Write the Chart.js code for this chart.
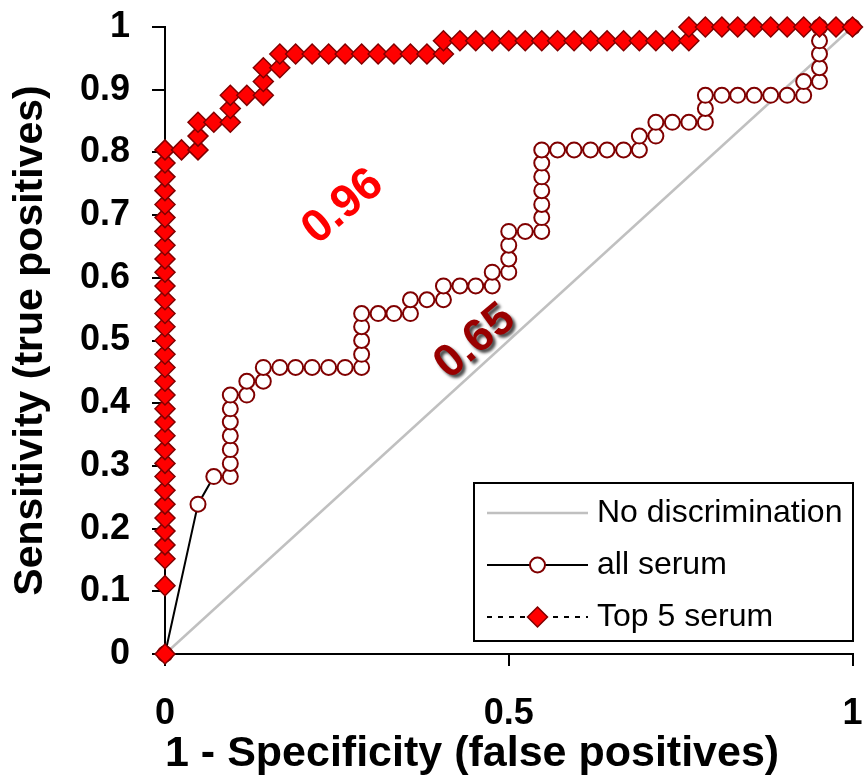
<!DOCTYPE html>
<html lang="en">
<head>
<meta charset="UTF-8">
<title>ROC curves</title>
<script src="https://cdn.jsdelivr.net/npm/chart.js@4.4.1/dist/chart.umd.min.js"></script>
<style>
  body { margin: 0; background: #fff; }
  #roc { display: block; }
</style>
</head>
<body>
<canvas id="roc" width="864" height="780"></canvas>
<script>
// series labels (legend order)
const seriesNames = ['No discrimination', 'all serum', 'Top 5 serum'];

// chance diagonal
const chanceX = [0, 1];
const chanceY = [0, 1];

// all serum ROC points (1 - specificity, sensitivity)
const allSerumX = [0, 0.048, 0.071, 0.095, 0.095, 0.095, 0.095, 0.095, 0.095, 0.095,
  0.119, 0.119, 0.143, 0.143, 0.167, 0.190, 0.214, 0.238, 0.262, 0.286,
  0.286, 0.286, 0.286, 0.286, 0.310, 0.333, 0.357, 0.357, 0.381, 0.405,
  0.405, 0.429, 0.452, 0.476, 0.476, 0.500, 0.500, 0.500, 0.500, 0.524,
  0.548, 0.548, 0.548, 0.548, 0.548, 0.548, 0.548, 0.571, 0.595, 0.619,
  0.643, 0.667, 0.690, 0.690, 0.714, 0.714, 0.738, 0.762, 0.786, 0.786,
  0.786, 0.810, 0.833, 0.857, 0.881, 0.905, 0.929, 0.929, 0.952, 0.952,
  0.952, 0.952, 0.952, 1];
const allSerumY = [0, 0.239, 0.283, 0.283, 0.304, 0.326, 0.348, 0.370, 0.391, 0.413,
  0.413, 0.435, 0.435, 0.457, 0.457, 0.457, 0.457, 0.457, 0.457, 0.457,
  0.478, 0.500, 0.522, 0.543, 0.543, 0.543, 0.543, 0.565, 0.565, 0.565,
  0.587, 0.587, 0.587, 0.587, 0.609, 0.609, 0.630, 0.652, 0.674, 0.674,
  0.674, 0.696, 0.717, 0.739, 0.761, 0.783, 0.804, 0.804, 0.804, 0.804,
  0.804, 0.804, 0.804, 0.826, 0.826, 0.848, 0.848, 0.848, 0.848, 0.870,
  0.891, 0.891, 0.891, 0.891, 0.891, 0.891, 0.891, 0.913, 0.913, 0.935,
  0.957, 0.978, 1, 1];

// top 5 serum ROC points
const top5X = [0, 0, 0, 0, 0, 0, 0, 0, 0, 0,
  0, 0, 0, 0, 0, 0, 0, 0, 0, 0,
  0, 0, 0, 0, 0, 0, 0, 0, 0, 0,
  0, 0, 0,
  0.024, 0.048, 0.048, 0.048, 0.071, 0.095, 0.095, 0.095, 0.119, 0.143,
  0.143, 0.143, 0.167, 0.167,
  0.190, 0.214, 0.238, 0.262, 0.286, 0.310, 0.333, 0.357, 0.381, 0.405,
  0.405, 0.429, 0.452, 0.476, 0.500, 0.524, 0.548, 0.571, 0.595, 0.619,
  0.643, 0.667, 0.690, 0.714, 0.738, 0.762,
  0.762, 0.786, 0.810, 0.833, 0.857, 0.881, 0.905, 0.929, 0.952, 0.976, 1];
const top5Y = [0, 0.109, 0.152, 0.174, 0.196, 0.217, 0.239, 0.261, 0.283, 0.304,
  0.326, 0.348, 0.370, 0.391, 0.413, 0.435, 0.457, 0.478, 0.500, 0.522,
  0.543, 0.565, 0.587, 0.609, 0.630, 0.652, 0.674, 0.696, 0.717, 0.739,
  0.761, 0.783, 0.804,
  0.804, 0.804, 0.826, 0.848, 0.848, 0.848, 0.870, 0.891, 0.891, 0.891,
  0.913, 0.935, 0.935, 0.957,
  0.957, 0.957, 0.957, 0.957, 0.957, 0.957, 0.957, 0.957, 0.957, 0.957,
  0.978, 0.978, 0.978, 0.978, 0.978, 0.978, 0.978, 0.978, 0.978, 0.978,
  0.978, 0.978, 0.978, 0.978, 0.978, 0.978,
  1, 1, 1, 1, 1, 1, 1, 1, 1, 1, 1];

// axes
const xTicks = [0, 0.5, 1];
const yTicks = [0, 0.1, 0.2, 0.3, 0.4, 0.5, 0.6, 0.7, 0.8, 0.9, 1];
const xTitle = '1 - Specificity (false positives)';
const yTitle = 'Sensitivity (true positives)';

// AUC values written on the plot
const aucValues = ['0.96', '0.65'];

const toPoints = (xs, ys) => xs.map((x, i) => ({ x: x, y: ys[i] }));
const fmt = v => String(+Number(v).toFixed(1));

Chart.defaults.font.family = 'Arial, "Liberation Sans", sans-serif';
Chart.defaults.color = '#000';

// AUC numbers, drawn rotated at data positions
const aucNotes = {
  id: 'aucNotes',
  afterDatasetsDraw(chart, args, o) {
    const ctx = chart.ctx;
    const sx = chart.scales.x, sy = chart.scales.y;
    o.items.forEach((it, i) => {
      ctx.save();
      ctx.translate(sx.getPixelForValue(it.x), sy.getPixelForValue(it.y));
      ctx.rotate(-40 * Math.PI / 180);
      ctx.font = 'bold 46px Arial, "Liberation Sans", sans-serif';
      ctx.textAlign = 'center';
      ctx.textBaseline = 'middle';
      if (it.shadow) {
        ctx.shadowColor = 'rgba(0,0,0,0.7)';
        ctx.shadowOffsetX = 3;
        ctx.shadowOffsetY = 3;
        ctx.shadowBlur = 3;
      }
      ctx.fillStyle = it.color;
      ctx.fillText(aucValues[i], 0, 0);
      ctx.restore();
    });
  }
};

// boxed legend with line + marker samples
const rocLegend = {
  id: 'rocLegend',
  afterDraw(chart, args, o) {
    const ctx = chart.ctx;
    ctx.save();
    ctx.fillStyle = '#fff';
    ctx.fillRect(o.left, o.top, o.width, o.height);
    ctx.lineWidth = 2;
    ctx.strokeStyle = '#000';
    ctx.strokeRect(o.left, o.top, o.width, o.height);
    chart.data.datasets.forEach((ds, i) => {
      const y = o.top + 30 + i * 52;
      const x0 = o.left + 13, x1 = o.left + 114;
      ctx.beginPath();
      ctx.setLineDash(ds.borderDash || []);
      ctx.strokeStyle = ds.borderColor;
      ctx.lineWidth = ds.borderWidth;
      ctx.moveTo(x0, y);
      ctx.lineTo(x1, y);
      ctx.stroke();
      ctx.setLineDash([]);
      const mx = (x0 + x1) / 2;
      if (ds.pointRadius > 0) {
        const r = ds.pointRadius;
        ctx.beginPath();
        if (ds.pointStyle === 'rectRot') {
          ctx.moveTo(mx - r, y);
          ctx.lineTo(mx, y - r);
          ctx.lineTo(mx + r, y);
          ctx.lineTo(mx, y + r);
          ctx.closePath();
        } else {
          ctx.arc(mx, y, r, 0, Math.PI * 2);
        }
        ctx.fillStyle = ds.pointBackgroundColor;
        ctx.fill();
        ctx.lineWidth = ds.pointBorderWidth;
        ctx.strokeStyle = ds.pointBorderColor;
        ctx.stroke();
      }
      ctx.fillStyle = '#000';
      ctx.font = '32px Arial, "Liberation Sans", sans-serif';
      ctx.textAlign = 'left';
      ctx.textBaseline = 'middle';
      ctx.fillText(ds.label, o.left + 123, y);
    });
    ctx.restore();
  }
};

new Chart(document.getElementById('roc'), {
  type: 'scatter',
  data: {
    datasets: [
      {
        label: seriesNames[0],
        data: toPoints(chanceX, chanceY),
        showLine: true,
        borderColor: '#c0c0c0',
        borderWidth: 2.5,
        pointRadius: 0,
        order: 3,
        clip: false
      },
      {
        label: seriesNames[1],
        data: toPoints(allSerumX, allSerumY),
        showLine: true,
        borderColor: '#000',
        borderWidth: 2,
        pointStyle: 'circle',
        pointRadius: 7.5,
        pointBackgroundColor: '#fff',
        pointBorderColor: '#800000',
        pointBorderWidth: 2,
        order: 2,
        clip: false
      },
      {
        label: seriesNames[2],
        data: toPoints(top5X, top5Y),
        showLine: true,
        borderColor: '#000',
        borderWidth: 2,
        borderDash: [5, 6],
        pointStyle: 'rectRot',
        pointRadius: 10,
        pointBackgroundColor: '#ff0000',
        pointBorderColor: '#800000',
        pointBorderWidth: 1.5,
        order: 1,
        clip: false
      }
    ]
  },
  options: {
    responsive: false,
    animation: false,
    layout: { padding: { top: 27, right: 11, bottom: 0, left: 0 } },
    elements: { line: { tension: 0 } },
    scales: {
      x: {
        type: 'linear',
        min: 0,
        max: 1,
        afterBuildTicks: s => { s.ticks = xTicks.map(v => ({ value: v })); },
        afterFit: s => { s.height = 126; s.paddingLeft = 0; s.paddingRight = 0; },
        border: { display: true, color: '#000', width: 2 },
        grid: { display: true, drawOnChartArea: false, drawTicks: true, tickLength: 12, color: '#000', lineWidth: 2 },
        ticks: { padding: 26, color: '#000', maxRotation: 0, font: { size: 36, weight: 'bold' }, callback: fmt },
        title: { display: true, text: xTitle, align: 'start', color: '#000', font: { size: 43, weight: 'bold' }, padding: { top: 0, bottom: 0 } }
      },
      y: {
        type: 'linear',
        min: 0,
        max: 1,
        afterBuildTicks: s => { s.ticks = yTicks.map(v => ({ value: v })); },
        afterFit: s => { s.width = 165; s.paddingTop = 0; s.paddingBottom = 0; },
        border: { display: true, color: '#000', width: 2 },
        grid: { display: true, drawOnChartArea: false, drawTicks: true, tickLength: 13, color: '#000', lineWidth: 2 },
        ticks: { padding: 22, color: '#000', font: { size: 36, weight: 'bold' }, callback: fmt },
        title: { display: true, text: yTitle, color: '#000', font: { size: 41, weight: 'bold' }, padding: { top: 6, bottom: 0 } }
      }
    },
    plugins: {
      legend: { display: false },
      tooltip: { enabled: false },
      aucNotes: {
        items: [
          { x: 0.259, y: 0.713, color: '#ff0000', shadow: false },
          { x: 0.451, y: 0.498, color: '#990000', shadow: true }
        ]
      },
      rocLegend: { left: 474, top: 483, width: 379, height: 158 }
    }
  },
  plugins: [aucNotes, rocLegend]
});
</script>
</body>
</html>
